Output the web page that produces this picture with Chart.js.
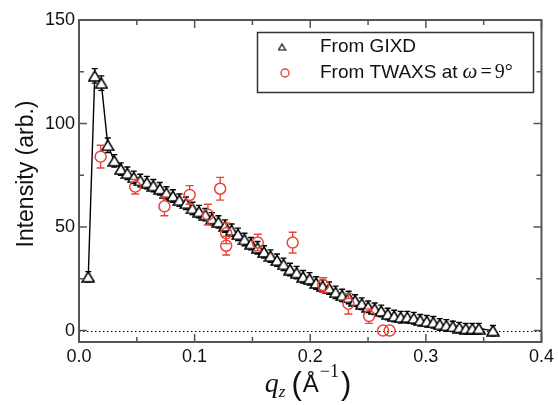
<!DOCTYPE html>
<html>
<head>
<meta charset="utf-8">
<script src="https://cdn.jsdelivr.net/npm/chart.js@4.4.0/dist/chart.umd.min.js"></script>
<style>
  html, body { margin: 0; padding: 0; background: #fff; }
  #wrap { position: relative; width: 558px; height: 405px; }
</style>
</head>
<body>
<div id="wrap"><canvas id="intensityChart"></canvas></div>
<script>
// GIXD profile (q_z in 1/Å, intensity in arb. units)
var gixdQ = [0.0080, 0.0136, 0.0193, 0.0249, 0.0305, 0.0362, 0.0418, 0.0474, 0.0530, 0.0587,
             0.0643, 0.0699, 0.0756, 0.0812, 0.0868, 0.0925, 0.0981, 0.1037, 0.1093, 0.1150,
             0.1206, 0.1262, 0.1319, 0.1375, 0.1431, 0.1488, 0.1544, 0.1600, 0.1656, 0.1713,
             0.1769, 0.1825, 0.1882, 0.1938, 0.1994, 0.2051, 0.2107, 0.2163, 0.2219, 0.2276,
             0.2332, 0.2388, 0.2445, 0.2501, 0.2557, 0.2614, 0.2670, 0.2726, 0.2782, 0.2839,
             0.2895, 0.2951, 0.3008, 0.3064, 0.3120, 0.3177, 0.3233, 0.3289, 0.3345, 0.3402,
             0.3458, 0.3580];
var gixdI = [26, 123, 119.5, 89.5, 82, 78, 76, 74, 72.5, 71.5,
             70, 68.5, 66.5, 65, 63, 61.5, 59, 57.5, 56, 54,
             52.5, 50.5, 48.5, 46.5, 44, 42, 40, 38, 36, 34,
             32, 29.5, 28, 26, 25, 23, 21.5, 20.5, 18.5, 17,
             16, 14.5, 13, 11.5, 10.5, 9.5, 8, 7, 6.5, 6.5,
             6, 5, 4.5, 4, 3, 2.5, 2, 1.5, 1, 1,
             1, 0];
var gixdErr = [2.5, 3.5, 3.5, 3.5, 3, 3, 3, 3, 3, 3,
               3, 3, 3, 3, 3, 3, 3, 3, 3, 3,
               3, 3, 3, 3, 3, 3, 3, 3, 3, 3,
               3, 3, 3, 3, 3, 3, 3, 3, 3, 3,
               3, 2.8, 2.8, 2.8, 2.8, 2.8, 2.8, 2.8, 2.8, 2.8,
               2.8, 2.8, 2.8, 2.8, 2.8, 2.8, 2.5, 2.5, 2.5, 2.5,
               2.5, 2.5];

// TWAXS points at omega = 9 deg
var twaxsQ = [0.0187, 0.0486, 0.0739, 0.0957, 0.1115, 0.1221, 0.1273, 0.1273, 0.1546, 0.1848,
              0.2112, 0.2330, 0.2509, 0.2630, 0.2687];
var twaxsI = [84, 69.5, 60, 65.5, 56, 68.5, 47, 41, 42.5, 42.5,
              22, 13, 7, 0, 0];
var twaxsErr = [5.5, 3.5, 4.5, 4.5, 5, 5.5, 5, 4.5, 4, 5,
                3.5, 5, 3.5, 0, 0];

var qTicks = [0, 0.1, 0.2, 0.3, 0.4];
var qMinorTicks = [0.05, 0.15, 0.25, 0.35];
var intensityTicks = [0, 50, 100, 150];
var intensityMinorTicks = [25, 75, 125];

var SANS = '"Liberation Sans", Arial, Helvetica, sans-serif';
var SERIF = '"Liberation Serif", "Times New Roman", serif';
var RED = 'rgb(232, 68, 56)';
var FRAME = '#555';

function toPoints(xs, ys) {
    return xs.map(function (x, i) { return { x: x, y: ys[i] }; });
}

// open triangle, centred on its bounding box
function makeTriangle(w, h, lw) {
    var c = document.createElement('canvas');
    c.width = w + 2;
    c.height = h + 2;
    var g = c.getContext('2d');
    g.beginPath();
    g.moveTo(c.width / 2, 1);
    g.lineTo(c.width - 1, c.height - 1);
    g.lineTo(1, c.height - 1);
    g.closePath();
    g.fillStyle = '#fff';
    g.fill();
    g.lineWidth = lw;
    g.strokeStyle = '#000';
    g.stroke();
    return c;
}

var triangle = makeTriangle(12, 10, 1.5);
var legendTriangle = makeTriangle(7, 6, 1.2);

function drawErrorBars(chart, index, gap, cap, color) {
    var ds = chart.data.datasets[index];
    var meta = chart.getDatasetMeta(index);
    var yScale = chart.scales.y;
    var ctx = chart.ctx;
    ctx.save();
    ctx.strokeStyle = color;
    ctx.lineWidth = 1.4;
    meta.data.forEach(function (pt, j) {
        var e = ds.yErr[j];
        if (!e) return;
        var v = ds.data[j].y;
        var top = yScale.getPixelForValue(v + e);
        var bot = yScale.getPixelForValue(v - e);
        ctx.beginPath();
        ctx.moveTo(pt.x, pt.y - gap); ctx.lineTo(pt.x, top);
        ctx.moveTo(pt.x, pt.y + gap); ctx.lineTo(pt.x, bot);
        ctx.moveTo(pt.x - cap, top); ctx.lineTo(pt.x + cap, top);
        ctx.moveTo(pt.x - cap, bot); ctx.lineTo(pt.x + cap, bot);
        ctx.stroke();
    });
    ctx.restore();
}

var underlay = {
    id: 'underlay',
    beforeDatasetsDraw: function (chart) {
        var ctx = chart.ctx, a = chart.chartArea;
        var y = Math.round(chart.scales.y.getPixelForValue(0)) + 0.5;
        ctx.save();
        ctx.strokeStyle = '#000';
        ctx.lineWidth = 1;
        ctx.setLineDash([1.5, 2.5]);
        ctx.beginPath();
        ctx.moveTo(a.left, y);
        ctx.lineTo(a.right, y);
        ctx.stroke();
        ctx.restore();
        drawErrorBars(chart, 0, 0, 3, '#000');
    },
    afterDatasetsDraw: function (chart) {
        drawErrorBars(chart, 1, 5.5, 4, RED);
    }
};

var frame = {
    id: 'frame',
    afterDraw: function (chart) {
        var ctx = chart.ctx, a = chart.chartArea;
        var xs = chart.scales.x, ys = chart.scales.y;
        ctx.save();
        ctx.strokeStyle = FRAME;
        ctx.lineWidth = 1.5;
        ctx.beginPath();
        function xTick(v, len) {
            var px = xs.getPixelForValue(v);
            ctx.moveTo(px, a.bottom); ctx.lineTo(px, a.bottom - len);
            ctx.moveTo(px, a.top); ctx.lineTo(px, a.top + len);
        }
        function yTick(v, len) {
            var py = ys.getPixelForValue(v);
            ctx.moveTo(a.left, py); ctx.lineTo(a.left + len, py);
            ctx.moveTo(a.right, py); ctx.lineTo(a.right - len, py);
        }
        qTicks.forEach(function (v) { xTick(v, 8); });
        qMinorTicks.forEach(function (v) { xTick(v, 5); });
        intensityTicks.forEach(function (v) { yTick(v, 8); });
        intensityMinorTicks.forEach(function (v) { yTick(v, 5); });
        ctx.stroke();
        ctx.lineWidth = 2;
        ctx.strokeRect(a.left, a.top, a.right - a.left, a.bottom - a.top);

        // legend
        ctx.lineWidth = 1.5;
        ctx.strokeStyle = '#333';
        ctx.strokeRect(257.5, 32.5, 276, 60);
        ctx.drawImage(legendTriangle, 282 - legendTriangle.width / 2, 47 - legendTriangle.height / 2);
        ctx.strokeStyle = RED;
        ctx.lineWidth = 1.4;
        ctx.beginPath();
        ctx.arc(285, 73, 4, 0, Math.PI * 2);
        ctx.stroke();

        ctx.fillStyle = '#111';
        ctx.textBaseline = 'middle';
        ctx.textAlign = 'left';
        ctx.font = '19px ' + SANS;
        ctx.fillText('From GIXD', 320, 47);
        var x = 320;
        ctx.fillText('From TWAXS at', x, 73);
        x += ctx.measureText('From TWAXS at').width + 5;
        ctx.font = 'italic 21px ' + SERIF;
        ctx.fillText('ω', x, 72);
        x += ctx.measureText('ω').width + 3;
        ctx.font = '20px ' + SERIF;
        ctx.fillText('=', x, 73);
        x += ctx.measureText('=').width + 3;
        ctx.fillText('9°', x, 73);

        // y axis title
        ctx.save();
        ctx.translate(27, 174);
        ctx.rotate(-Math.PI / 2);
        ctx.textAlign = 'center';
        ctx.font = '23px ' + SANS;
        ctx.fillText('Intensity (arb.)', 0, 0);
        ctx.restore();

        // x axis title: q_z (Å^-1)
        var parts = [
            { t: 'q', f: 'italic 28px ' + SERIF, dy: 0, gap: 0 },
            { t: 'z', f: 'italic 17px ' + SERIF, dy: 5, gap: 6 },
            { t: '(', f: '31px ' + SANS, dy: 2, gap: 1 },
            { t: 'Å', f: '24px ' + SANS, dy: 0, gap: 1 },
            { t: '\u22121', f: '18px ' + SERIF, dy: -15, gap: 2 },
            { t: ')', f: '31px ' + SANS, dy: 2, gap: 0 }
        ];
        ctx.textBaseline = 'alphabetic';
        var total = 0;
        parts.forEach(function (p) { ctx.font = p.f; p.w = ctx.measureText(p.t).width; total += p.w + p.gap; });
        x = 308 - total / 2;
        parts.forEach(function (p) {
            ctx.font = p.f;
            ctx.fillText(p.t, x, 392 + p.dy);
            x += p.w + p.gap;
        });
        ctx.restore();
    }
};

new Chart(document.getElementById('intensityChart').getContext('2d'), {
    type: 'scatter',
    data: {
        datasets: [{
            label: 'From GIXD',
            data: toPoints(gixdQ, gixdI),
            yErr: gixdErr,
            showLine: true,
            borderColor: '#000',
            borderWidth: 1.4,
            pointStyle: triangle,
            order: 1
        }, {
            label: 'From TWAXS at ω=9°',
            data: toPoints(twaxsQ, twaxsI),
            yErr: twaxsErr,
            showLine: false,
            pointStyle: 'circle',
            pointRadius: 5.5,
            pointBorderWidth: 1.5,
            borderColor: RED,
            backgroundColor: 'rgba(0,0,0,0)',
            order: 0
        }]
    },
    options: {
        responsive: true,
        maintainAspectRatio: false,
        animation: false,
        devicePixelRatio: 1,
        layout: { padding: { left: 0, right: 15, top: 20, bottom: 0 } },
        plugins: {
            legend: { display: false },
            tooltip: { enabled: false }
        },
        scales: {
            x: {
                type: 'linear',
                min: 0,
                max: 0.4,
                afterBuildTicks: function (axis) { axis.ticks = qTicks.map(function (v) { return { value: v }; }); },
                afterFit: function (scale) { scale.height = 63; },
                grid: { display: false, drawTicks: false },
                border: { display: false },
                ticks: {
                    padding: 4,
                    color: '#111',
                    maxRotation: 0,
                    font: { family: SANS, size: 18 },
                    callback: function (v) { return v.toFixed(1); }
                }
            },
            y: {
                type: 'linear',
                min: -5.5,
                max: 150,
                afterBuildTicks: function (axis) { axis.ticks = intensityTicks.map(function (v) { return { value: v }; }); },
                afterFit: function (scale) { scale.width = 79; },
                grid: { display: false, drawTicks: false },
                border: { display: false },
                ticks: {
                    padding: 4,
                    color: '#111',
                    font: { family: SANS, size: 18 },
                    callback: function (v) { return String(v); }
                }
            }
        }
    },
    plugins: [underlay, frame]
});
</script>
</body>
</html>
